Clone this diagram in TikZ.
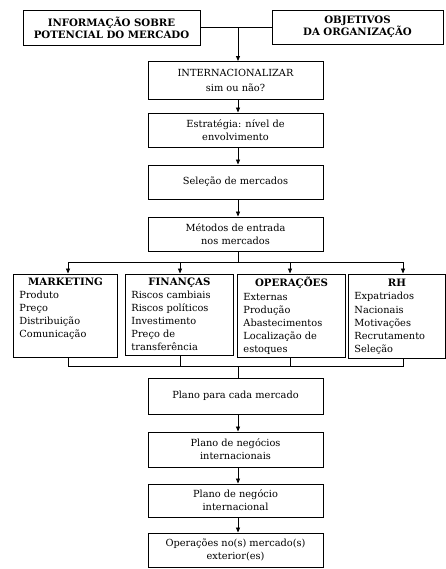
\documentclass[tikz,border=0pt]{standalone}
\usepackage{fontspec}
\setmainfont{DejaVu Serif}
\usetikzlibrary{arrows.meta}
\newcommand{\bodyfont}{\fontsize{9.8}{13}\selectfont}
\newcommand{\catfont}{\fontsize{9.8}{13.1}\selectfont}
\newcommand{\headfont}{\fontsize{10.2}{11.8}\selectfont\bfseries}
\begin{document}
\begin{tikzpicture}[x=1pt,y=-1pt,
  box/.style={draw, line width=0.9pt, inner sep=0pt, align=center, font=\bodyfont},
  topbox/.style={box, font=\headfont},
  catbox/.style={draw, line width=0.9pt, inner xsep=6pt, inner ysep=0pt, anchor=north west, font=\catfont},
  conn/.style={line width=0.8pt},
  arr/.style={conn, -{Triangle[length=5pt,width=4pt]}}]
\useasboundingbox (0,0) rectangle (446,569);

% top boxes
\node[topbox, minimum width=177pt, minimum height=35pt] (info) at (111.5,27.5) {INFORMAÇÃO SOBRE\\POTENCIAL DO MERCADO};
\node[topbox, minimum width=171pt, minimum height=34pt] (obj) at (357.5,27) {OBJETIVOS\\DA ORGANIZAÇÃO};

% central chain
\node[box, minimum width=175pt, minimum height=38pt, font=\fontsize{9.8}{15}\selectfont] (intern) at (235.5,80.5) {INTERNACIONALIZAR\\sim ou não?};
\node[box, minimum width=175pt, minimum height=34pt] (estrat) at (235.5,130) {Estratégia: nível de\\envolvimento};
\node[box, minimum width=175pt, minimum height=34pt] (selec) at (235.5,182) {Seleção de mercados};
\node[box, minimum width=175pt, minimum height=34pt] (metod) at (235.5,234) {Métodos de entrada\\nos mercados};

% category boxes
\node[catbox] (mkt) at (13,273.5) {\parbox[c][83pt][t]{92pt}{\vspace*{3.5pt}\centering{\headfont MARKETING}\par\raggedright Produto\\Preço\\Distribuição\\Comunicação}};
\node[catbox] (fin) at (125,273.5) {\parbox[c][81pt][t]{96pt}{\vspace*{3.5pt}\centering{\headfont FINANÇAS}\par\raggedright Riscos cambiais\\Riscos políticos\\Investimento\\Preço de\\transferência}};
\node[catbox] (ops) at (237,273.5) {\parbox[c][83pt][t]{96pt}{\vspace*{3.5pt}\centering{\headfont OPERAÇÕES}\par\raggedright Externas\\Produção\\Abastecimentos\\Localização de\\estoques}};
\node[catbox] (rh) at (348,273.5) {\parbox[c][84pt][t]{85pt}{\vspace*{5.5pt}\centering{\headfont RH}\par\raggedright Expatriados\\Nacionais\\Motivações\\Recrutamento\\Seleção}};

% lower chain
\node[box, minimum width=175pt, minimum height=36pt] (plano1) at (235.5,396) {Plano para cada mercado};
\node[box, minimum width=175pt, minimum height=35pt] (plano2) at (235.5,449.5) {Plano de negócios\\internacionais};
\node[box, minimum width=175pt, minimum height=33pt] (plano3) at (235.5,500.5) {Plano de negócio\\internacional};
\node[box, minimum width=175pt, minimum height=34pt] (oper) at (235.5,550) {Operações no(s) mercado(s)\\exterior(es)};

% coordinates
\coordinate (tx) at (238,0);
\coordinate (tj) at (238,27.5);
\coordinate (b1) at (68,262);
\coordinate (b2) at (180,262);
\coordinate (b3) at (290,262);
\coordinate (b4) at (403,262);
\coordinate (c1) at (68,366);
\coordinate (c2) at (180,366);
\coordinate (c3) at (290,366);
\coordinate (c4) at (403,366);

% connectors
\draw[conn] (info.east) -- (obj.west |- info.east);
\draw[arr] (tj) -- (tj |- intern.north);
\draw[arr] (intern.south -| tx) -- (estrat.north -| tx);
\draw[arr] (estrat.south -| tx) -- (selec.north -| tx);
\draw[arr] (selec.south -| tx) -- (metod.north -| tx);
\draw[conn] (metod.south -| tx) -- (tx |- b1);
\draw[conn] (b1) -- (b4);
\draw[arr] (b1) -- (b1 |- mkt.north);
\draw[arr] (b2) -- (b2 |- fin.north);
\draw[arr] (b3) -- (b3 |- ops.north);
\draw[arr] (b4) -- (b4 |- rh.north);
\draw[conn] (mkt.south -| c1) -- (c1) -- (c4) -- (rh.south -| c4);
\draw[conn] (fin.south -| c2) -- (c2);
\draw[conn] (ops.south -| c3) -- (c3);
\draw[conn] (tx |- c1) -- (plano1.north -| tx);
\draw[arr] (plano1.south -| tx) -- (plano2.north -| tx);
\draw[arr] (plano2.south -| tx) -- (plano3.north -| tx);
\draw[arr] (plano3.south -| tx) -- (oper.north -| tx);
\end{tikzpicture}
\end{document}
